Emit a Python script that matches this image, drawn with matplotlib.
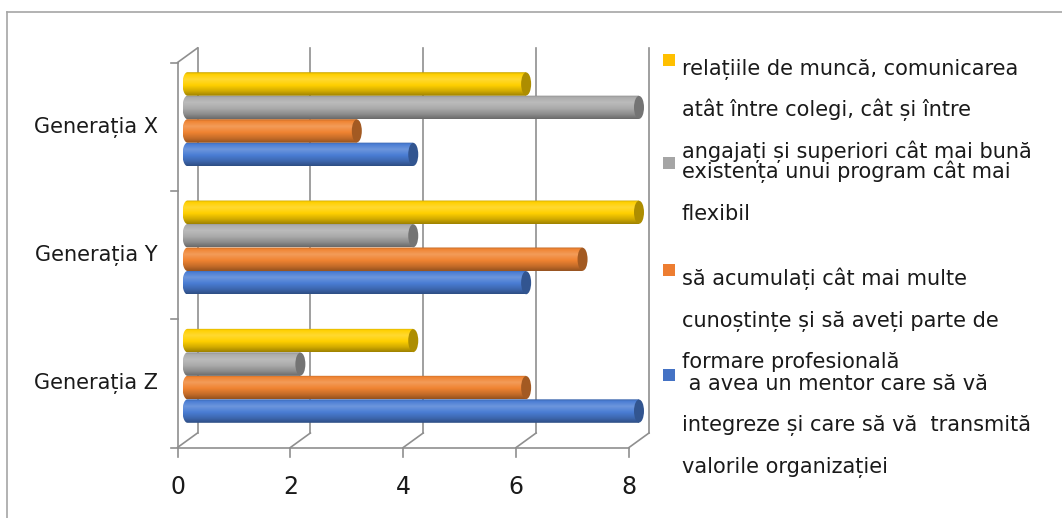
import numpy as np
import matplotlib
matplotlib.use('Agg')
import matplotlib.pyplot as plt
from matplotlib.colors import to_rgb
from matplotlib.patches import Ellipse, Rectangle
from matplotlib.path import Path
from matplotlib.lines import Line2D
from matplotlib.transforms import ScaledTranslation

# date
categorii = ['Generația Z', 'Generația Y', 'Generația X']
mentor = [8, 6, 4]
cunostinte = [6, 7, 3]
program_flexibil = [2, 4, 8]
relatii = [4, 8, 6]
valori_x = [0, 2, 4, 6, 8]

legenda_mentor = [' a avea un mentor care să vă',
                  'integreze și care să vă  transmită',
                  'valorile organizației']
legenda_cunostinte = ['să acumulați cât mai multe',
                      'cunoștințe și să aveți parte de',
                      'formare profesională']
legenda_program = ['existența unui program cât mai', 'flexibil']
legenda_relatii = ['relațiile de muncă, comunicarea',
                   'atât între colegi, cât și între',
                   'angajați și superiori cât mai bună']

serii = [mentor, cunostinte, program_flexibil, relatii]
culori = ['#4A7DD4', '#F08432', '#ABABAB', '#FFD000']
culori_legenda = ['#4472C4', '#ED7D31', '#A5A5A5', '#FFC000']
legende = [legenda_mentor, legenda_cunostinte, legenda_program, legenda_relatii]

W, H = 1062, 518
fig = plt.figure(figsize=(W / 100, H / 100), dpi=100)
fig.patch.set_facecolor('white')


def fx(px):
    return px / W


def fy(py):
    return 1 - py / H


# planul din mijloc al graficului 3D (cu o margine mica pentru capetele barelor)
scala = 451.5 / 8
marg = 8 / scala
ax = fig.add_axes([fx(187.5 - 8), fy(440), (451.5 + 16) / W, 385 / H])
ax.set_xlim(-marg, 8 + marg)
ax.set_ylim(-0.5, 2.5)
ax.axis('off')


def shift(dx, dy):
    return ax.transData + ScaledTranslation(dx / 100, -dy / 100, fig.dpi_scale_trans)


def linie_fig(p0, p1):
    # linie in pixeli de afisare
    fig.add_artist(Line2D([p0[0] / W, p1[0] / W], [p0[1] / H, p1[1] / H],
                          color=gri, lw=1.2, zorder=1))


spate = shift(10, -7)
fata = shift(-10, 7.5)
gri = '#8F8F8F'

# peretele din spate
for v in valori_x:
    ax.plot([v, v], [-0.5, 2.5], color=gri, lw=1.2, transform=spate,
            clip_on=False, zorder=1)

# diagonale catre podea
for v in valori_x:
    linie_fig(spate.transform((v, -0.5)), fata.transform((v, -0.5)))
linie_fig(spate.transform((0, 2.5)), fata.transform((0, 2.5)))

# axele din fata
ax.plot([0, 8], [-0.5, -0.5], color=gri, lw=1.2, transform=fata, clip_on=False)
ax.plot([0, 0], [-0.5, 2.5], color=gri, lw=1.2, transform=fata, clip_on=False)

for v in valori_x:
    a = fata.transform((v, -0.5))
    linie_fig(a, (a[0], a[1] - 9))
    ax.text(v, -0.5, str(v), transform=shift(-10, 35), ha='center',
            va='top', fontsize=17, color='#1a1a1a')
for k in range(4):
    a = fata.transform((0, k - 0.5))
    linie_fig(a, (a[0] - 7, a[1]))

for i, c in enumerate(categorii):
    ax.text(0, i, c, transform=shift(-30, 8), ha='right', va='center',
            fontsize=15, color='#1a1a1a')

# bare cilindrice
h = 0.183
a_cap = 5 / scala
profil_poz = [0.0, 0.08, 0.3, 0.55, 0.8, 1.0]
profil_fac = [0.78, 1.0, 1.12, 1.0, 0.82, 0.62]


def nuanta(rgb, f):
    rgb = np.array(rgb)
    if f >= 1:
        return rgb + (1 - rgb) * (f - 1) * 1.6
    return rgb * f


for s, (vals, col) in enumerate(zip(serii, culori)):
    base = to_rgb(col)
    t = np.linspace(0, 1, 60)
    fac = np.interp(t, profil_poz, profil_fac)
    grad = np.array([nuanta(base, f) for f in fac]).clip(0, 1)[:, None, :]
    for i, v in enumerate(vals):
        yc = i + (s - 1.5) * h
        y0, y1 = yc - h / 2, yc + h / 2
        im = ax.imshow(grad, extent=[-a_cap, v, y0, y1], aspect='auto',
                       origin='upper', zorder=3, interpolation='bilinear')
        tt = np.linspace(0, np.pi, 30)
        verts = [(0, y1), (v, y1), (v, y0), (0, y0)]
        verts += [(-a_cap * np.sin(q), yc - (h / 2) * np.cos(q)) for q in tt]
        verts.append((0, y1))
        im.set_clip_path(Path(verts, closed=True), ax.transData)
        ax.add_patch(Ellipse((v, yc), 2 * a_cap, h * 0.98,
                             facecolor=nuanta(base, 0.68), edgecolor='none',
                             zorder=4, clip_on=False))
ax.set_xlim(-marg, 8 + marg)
ax.set_ylim(-0.5, 2.5)

# legenda
start = [390, 285, 178, 75]
for col, linii, y in zip(culori_legenda, legende, start):
    fig.add_artist(Rectangle((fx(663), fy(y - 9)), 12 / W, 12 / H,
                             facecolor=col, edgecolor='none'))
    for j, linie in enumerate(linii):
        fig.text(fx(682), fy(y + j * 41.5), linie, fontsize=15,
                 color='#1a1a1a', va='baseline', ha='left')

# chenarul graficului
fig.add_artist(Line2D([fx(7), 1], [fy(11.5), fy(11.5)], color='#A6A6A6', lw=1.2))
fig.add_artist(Line2D([fx(7), fx(7)], [fy(11.5), 0], color='#A6A6A6', lw=1.2))

fig.savefig('out.png', dpi=100)
